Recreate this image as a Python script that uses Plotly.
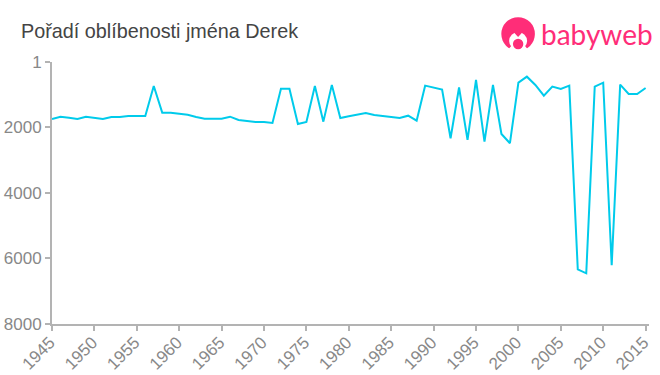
import plotly.graph_objects as go

years = list(range(1945, 2016))
ranks = [1740, 1670, 1700, 1740, 1670, 1710, 1740, 1680, 1680, 1650,
         1650, 1650, 733, 1547, 1547, 1578, 1609, 1680, 1731, 1731,
         1731, 1670, 1770, 1800, 1832, 1832, 1862, 815, 815, 1893,
         1832, 733, 1822, 700, 1710, 1660, 1620, 1557, 1620, 1650,
         1660, 1710, 1640, 1792, 723, 773, 845, 2330, 780, 2380,
         550, 2430, 700, 2200, 2480, 632, 449, 702, 1028, 753,
         824, 723, 6330, 6452, 753, 632, 6207, 693, 977, 977,
         794]
x_ticks = list(range(1945, 2016, 5))
y_ticks = [1, 2000, 4000, 6000, 8000]
title = "Pořadí oblíbenosti jména Derek"
brand = "babyweb"

W, H = 660, 375
L, R, T, B = 52, 649.5, 62, 324
PINK = "#ff2d78"
X = lambda v: (v - L) / (R - L)
Y = lambda v: (B - v) / (B - T)

fig = go.Figure(go.Scatter(x=years, y=ranks, mode="lines",
                           line=dict(color="#00cbeb", width=2),
                           hoverinfo="skip"))

FAMILY = "Liberation Sans, Arial, sans-serif"
common = dict(ticks="outside", ticklen=5, tickwidth=2, tickcolor="#b3b3b3",
              showline=True, linewidth=2, linecolor="#b3b3b3",
              showgrid=False, zeroline=False, automargin=False)
fig.update_xaxes(range=[1945, 2015.4], tickvals=x_ticks, tickangle=-45,
                 tickfont=dict(family=FAMILY, size=17, color="#888888"),
                 ticklabelshift=-2, ticklabelstandoff=-5, **common)
fig.update_yaxes(range=[8000, 1], tickvals=y_ticks,
                 tickfont=dict(family=FAMILY, size=17, color="#888888"), **common)


def circle(cx, cy, r, color):
    return dict(type="circle", xref="paper", yref="paper", layer="above",
                x0=X(cx - r), x1=X(cx + r), y0=Y(cy + r), y1=Y(cy - r),
                fillcolor=color, line_width=0)


def poly(points, color):
    d = "M " + " L ".join(f"{X(a):.5f},{Y(b):.5f}" for a, b in points) + " Z"
    return dict(type="path", path=d, xref="paper", yref="paper", layer="above",
                fillcolor=color, line_width=0)


# Logo: head disc, white face cut-out with hair tuft, pink nose
shapes = [
    circle(518.5, 34, 16.8, PINK),
    circle(518.5, 41, 9, "white"),
    poly([(518.5, 38), (503, 56), (534, 56)], "white"),
    poly([(513, 31), (518.5, 37), (524, 31)], PINK),
    circle(518.5, 44, 5.2, PINK),
]

fig.update_layout(
    width=W, height=H,
    margin=dict(l=L, r=W - R, t=T, b=H - B, pad=0),
    paper_bgcolor="white", plot_bgcolor="white",
    showlegend=False,
    shapes=shapes,
    annotations=[
        dict(text=title, xref="paper", yref="paper", x=X(18.5), y=Y(31),
             xanchor="left", yanchor="middle", showarrow=False,
             font=dict(family=FAMILY, size=19.8, color="#444444")),
        dict(text=brand, xref="paper", yref="paper", x=X(539), y=Y(34),
             xanchor="left", yanchor="middle", showarrow=False,
             font=dict(family="Lato, sans-serif", size=28, color=PINK)),
    ],
)
fig.write_html("out.html", config=dict(displayModeBar=False),
               post_script="document.body.style.margin='0';document.documentElement.style.overflow='hidden';")
